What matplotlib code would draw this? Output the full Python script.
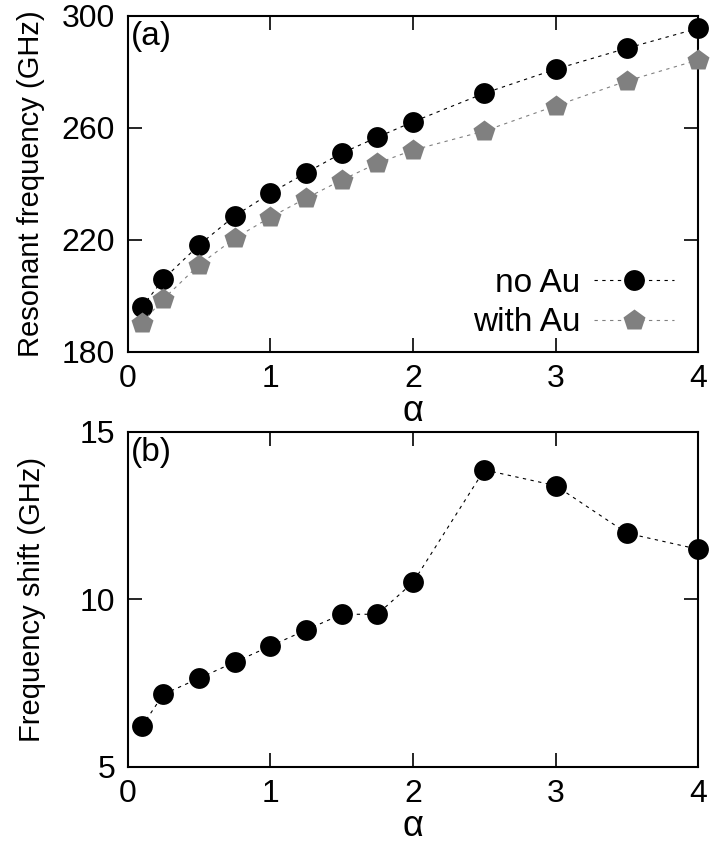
import matplotlib.pyplot as plt

# alpha values shared by both panels
alpha = [0.1, 0.25, 0.5, 0.75, 1.0, 1.25, 1.5, 1.75, 2.0, 2.5, 3.0, 3.5, 4.0]

# resonant frequency (GHz)
f_no_au = [196.0, 205.9, 218.1, 228.5, 236.6, 243.9, 250.9, 256.6, 262.1, 272.3, 280.9, 288.4, 295.5]
f_with_au = [190.3, 198.8, 211.0, 220.5, 228.0, 234.8, 241.3, 247.3, 252.0, 258.8, 267.8, 276.7, 284.2]

# frequency shift (GHz)
shift = [6.21, 7.16, 7.64, 8.12, 8.60, 9.08, 9.55, 9.55, 10.5, 13.86, 13.39, 11.97, 11.49]

plt.rcParams['font.family'] = ['Liberation Sans', 'DejaVu Sans']
plt.rcParams['axes.linewidth'] = 1.5

W, H = 715, 847
fig = plt.figure(figsize=(W / 100, H / 100), dpi=100)
ax1 = fig.add_axes([127.7 / W, (H - 351.7) / H, 570.6 / W, 336 / H])
ax2 = fig.add_axes([127.7 / W, (H - 766.7) / H, 570.6 / W, 335 / H])

gray = '#808080'
ax1.plot(alpha, f_no_au, color='black', ls=(0, (3, 4)), lw=0.8,
         marker='o', ms=15, mec='none', label='no Au', clip_on=False, zorder=3)
ax1.plot(alpha, f_with_au, color=gray, ls=(0, (3, 4)), lw=0.8,
         marker='p', ms=16, mfc=gray, mec='none', label='with Au', clip_on=False, zorder=3)
ax1.set_ylim(180, 300)
ax1.set_yticks([180, 220, 260, 300])
ax1.set_ylabel('Resonant frequency (GHz)', fontsize=21, labelpad=12)
ax1.text(0.005, 0.985, '(a)', transform=ax1.transAxes, fontsize=24, va='top', ha='left')
leg = ax1.legend(loc='lower right', markerfirst=False, frameon=False,
                 prop={'size': 24}, handlelength=2.4, handletextpad=0.4,
                 labelspacing=0.25, borderaxespad=0.0, bbox_to_anchor=(0.98, 0.0))
for t in leg.get_texts():
    t.set_ha('right')

ax2.plot(alpha, shift, color='black', ls=(0, (3, 4)), lw=0.8,
         marker='o', ms=15, mec='none', clip_on=False, zorder=3)
ax2.set_ylim(5, 15)
ax2.set_yticks([5, 10, 15])
ax2.set_ylabel('Frequency shift (GHz)', fontsize=21, labelpad=24)
ax2.text(0.005, 0.985, '(b)', transform=ax2.transAxes, fontsize=24, va='top', ha='left')

for ax in (ax1, ax2):
    ax.set_xlim(0, 4)
    ax.set_xticks([0, 1, 2, 3, 4])
    ax.set_xlabel('α', fontsize=26, labelpad=0)
    ax.tick_params(direction='in', length=10, width=1.2, top=True, right=True,
                   labelsize=23, pad=9)

fig.savefig('out.png', dpi=100)
